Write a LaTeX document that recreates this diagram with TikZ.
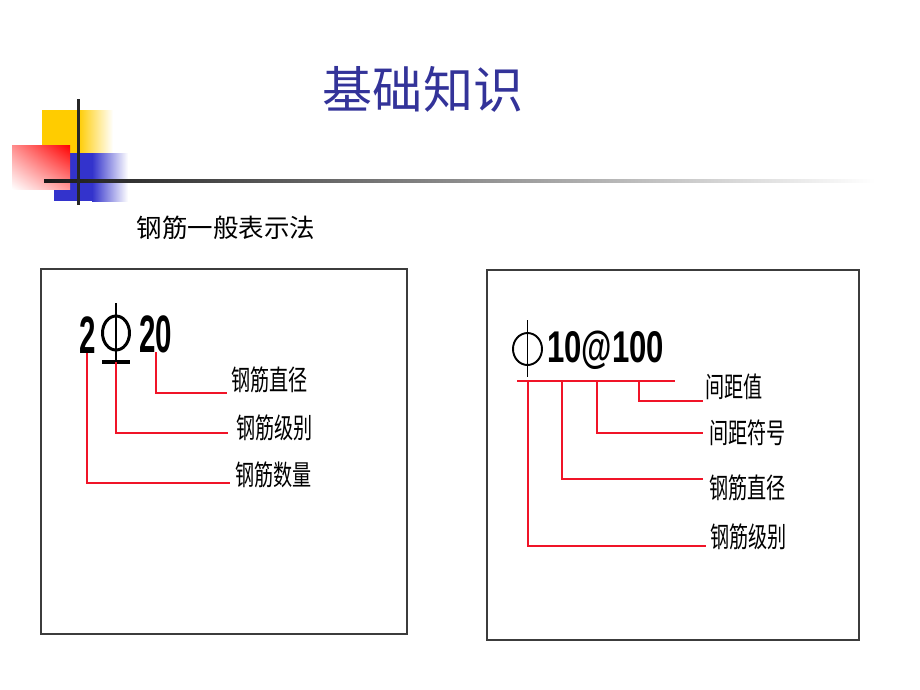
\documentclass[tikz,border=0pt]{standalone}
\usepackage{fontspec}
\usepackage{graphicx}
\usetikzlibrary{shadings,shapes.geometric}
\newfontfamily\cjk{Noto Sans CJK SC}
\newfontfamily\numfont{Liberation Sans}
\definecolor{titleblue}{RGB}{51,51,153}
\definecolor{decoyellow}{RGB}{255,204,0}
\definecolor{decoblue}{RGB}{51,51,204}
\definecolor{leadred}{RGB}{240,20,40}
\definecolor{boxgray}{RGB}{60,60,60}
\tikzset{
  lbl/.style={anchor=west, inner sep=0pt,
    font=\cjk\fontsize{16}{16}\selectfont},
  leader/.style={draw=leadred, line width=0.85pt},
  frame/.style={draw=boxgray, line width=1.1pt},
  bar/.style={line width=1.7pt}
}
\newcommand{\narrow}[2]{\scalebox{#1}[1]{#2}}
\begin{document}
\begin{tikzpicture}[x=0.02cm,y=0.02cm]
	\useasboundingbox (0,0) rectangle (920,-690);

	%% corner decoration
	\fill[decoyellow] (42,-110) rectangle (79,-153);
	\shade[left color=decoyellow, right color=white] (78,-110) rectangle (113,-153);
	\fill[decoblue] (54,-153) rectangle (93,-201);
	\shade[left color=decoblue, right color=white] (92,-153) rectangle (128,-201);
	\shade[upper right=red, upper left=red!45, lower right=red!40,
		lower left=white] (12,-145) rectangle (70,-189);
	\shade[left color=black!90, right color=white] (44,-179.3) rectangle (875,-182.7);
	\fill[black!85] (76.5,-99) rectangle (79.5,-205);

	%% titles
	\node[text=titleblue, font=\cjk\fontsize{28.5}{30}\selectfont] (title) at (423,-89) {基础知识};
	\node[font=\cjk\fontsize{14.5}{15}\selectfont] (sub) at (226,-228) {钢筋一般表示法};

	%% frames
	\node[frame, minimum width=366*0.02cm, minimum height=365*0.02cm, inner sep=0pt]
		(boxL) at (224,-451.5) {};
	\node[frame, minimum width=372*0.02cm, minimum height=370*0.02cm, inner sep=0pt]
		(boxR) at (673,-455) {};

	%% left: 2 phi 20
	\node[anchor=base west, inner sep=0pt, font=\numfont\bfseries\fontsize{30}{30}\selectfont]
		(n2) at (79,-353) {\narrow{0.56}{2}};
	\node[anchor=base west, inner sep=0pt, font=\numfont\bfseries\fontsize{30}{30}\selectfont]
		(n20) at (139,-352) {\narrow{0.56}{20}};
	\node[draw, bar, ellipse, minimum width=27*0.02cm, minimum height=34*0.02cm, inner sep=0pt]
		(phiL) at (116,-333) {};
	\coordinate (phiLtop) at (116,-303);
	\coordinate (phiLbot) at (116,-362);
	\coordinate (barL1) at (102,-362);
	\coordinate (barL2) at (130,-362);
	\draw[bar] (phiLtop) -- (phiLbot);
	\draw[line width=2.6pt] (barL1) -- (barL2);

	\coordinate (s20) at (156,-352);
	\coordinate (e20) at (227,-393);
	\coordinate (sphi) at (116,-362);
	\coordinate (ephi) at (228,-433);
	\coordinate (s2) at (87,-353);
	\coordinate (e2) at (230,-483);

	\node[lbl] (dia) at (231,-380) {\narrow{0.68}{钢筋直径}};
	\node[lbl] (grade) at (236,-428) {\narrow{0.68}{钢筋级别}};
	\node[lbl] (qty) at (235,-475) {\narrow{0.68}{钢筋数量}};

	\foreach \from/\to in {s20/e20,sphi/ephi,s2/e2}
	\draw[leader] (\from) |- (\to);

	%% right: phi 10 @ 100
	\node[draw, line width=1.1pt, ellipse, minimum width=29*0.02cm, minimum height=32*0.02cm, inner sep=0pt]
		(phiR) at (527.5,-349) {};
	\coordinate (phiRtop) at (527.5,-320);
	\coordinate (phiRbot) at (527.5,-377);
	\draw[line width=1.1pt] (phiRtop) -- (phiRbot);
	\node[anchor=base west, inner sep=0pt, font=\numfont\bfseries\fontsize{25.3}{26}\selectfont]
		(spec) at (547,-362) {\narrow{0.70}{10@100}};

	\coordinate (bl) at (517,-381);
	\coordinate (br) at (675,-381);
	\coordinate (r1) at (528,-381);
	\coordinate (r2) at (562,-381);
	\coordinate (r3) at (597,-381);
	\coordinate (r4) at (639,-381);
	\coordinate (q1) at (706,-546);
	\coordinate (q2) at (703,-479);
	\coordinate (q3) at (703,-433);
	\coordinate (q4) at (703,-401);

	\node[lbl] (gap) at (705,-387) {\narrow{0.68}{间距值}};
	\node[lbl] (gapsym) at (709,-433) {\narrow{0.68}{间距符号}};
	\node[lbl] (diaR) at (709,-488) {\narrow{0.68}{钢筋直径}};
	\node[lbl] (gradeR) at (710,-537) {\narrow{0.68}{钢筋级别}};

	\draw[leader] (bl) -- (br);
	\foreach \from/\to in {r1/q1,r2/q2,r3/q3,r4/q4}
	\draw[leader] (\from) |- (\to);
\end{tikzpicture}
\end{document}
